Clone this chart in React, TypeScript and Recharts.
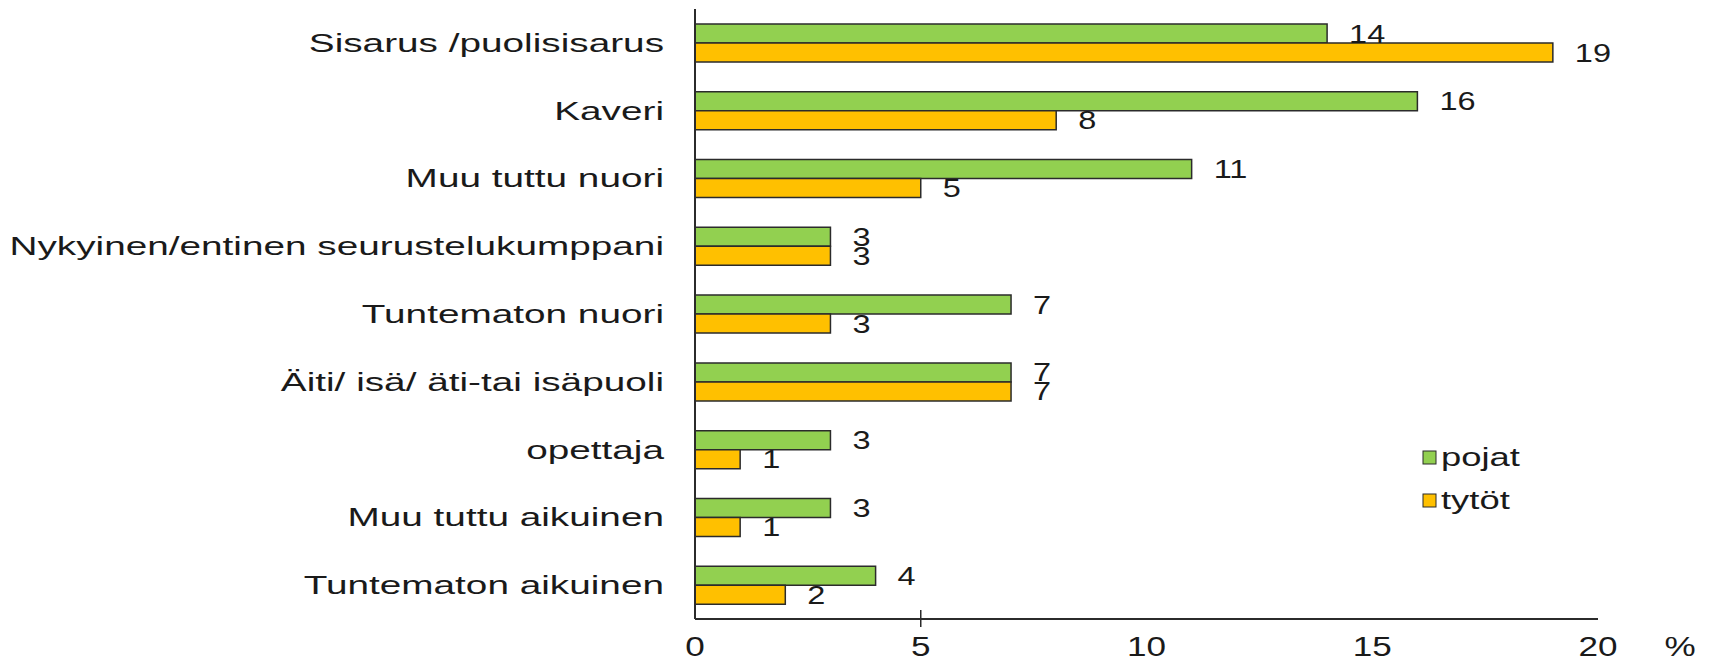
import React from "react"
import {
  BarChart,
  Bar,
  XAxis,
  YAxis,
  LabelList,
  Label,
} from "recharts"

const categories = [
  "Sisarus /puolisisarus",
  "Kaveri",
  "Muu tuttu nuori",
  "Nykyinen/entinen seurustelukumppani",
  "Tuntematon nuori",
  "Äiti/ isä/ äti-tai isäpuoli",
  "opettaja",
  "Muu tuttu aikuinen",
  "Tuntematon aikuinen",
]
const pojat = [14, 16, 11, 3, 7, 7, 3, 3, 4]
const tytot = [19, 8, 5, 3, 3, 7, 1, 1, 2]
const xTicks = [0, 5, 10, 15, 20]
const tickMarks = [5]
const seriesNames = ["pojat", "tytöt"]

const FONT = "'Liberation Sans', Arial, sans-serif"
const GREEN = "#92D050"
const ORANGE = "#FFC000"
const EDGE = "#2b2b2b"

const data = categories.map((name, i) => ({ name, pojat: pojat[i], tytot: tytot[i] }))

// the original text is stretched sideways, so scale it horizontally
const CategoryTick = ({ x, y, payload }: any) => (
  <g transform={`translate(${x - 23},${y + 9}) scale(1.49,1)`}>
    <text x={0} y={0} textAnchor="end" fontSize={26} fontFamily={FONT} fill="#1a1a1a">
      {payload.value}
    </text>
  </g>
)

const ValueTick = ({ x, y, payload }: any) => (
  <g>
    {tickMarks.includes(payload.value) && (
      <line x1={x} x2={x} y1={y - 9} y2={y + 8} stroke={EDGE} strokeWidth={1.5} />
    )}
    <g transform={`translate(${x},${y + 37}) scale(1.3,1)`}>
      <text x={0} y={0} textAnchor="middle" fontSize={27} fontFamily={FONT} fill="#1a1a1a">
        {payload.value}
      </text>
    </g>
  </g>
)

const renderValue = ({ x, y, width, height, value }: any) => (
  <g transform={`translate(${x + width + 22},${y + height / 2 + 9}) scale(1.3,1)`}>
    <text x={0} y={0} fontSize={25} fontFamily={FONT} fill="#1a1a1a">
      {value}
    </text>
  </g>
)

function ChartLegend() {
  const colors = [GREEN, ORANGE]
  return (
    <svg
      width={130}
      height={90}
      style={{ position: "absolute", left: 1420, top: 440 }}
    >
      {seriesNames.map((label, i) => {
        const cy = 17 + i * 43
        return (
          <g key={label}>
            <rect x={3} y={cy - 6} width={13} height={13} fill={colors[i]} stroke={EDGE} strokeWidth={1} />
            <g transform={`translate(21,${cy + 9}) scale(1.4,1)`}>
              <text x={0} y={0} fontSize={26} fontFamily={FONT} fill="#1a1a1a">
                {label}
              </text>
            </g>
          </g>
        )
      })}
    </svg>
  )
}

export default function App() {
  return (
    <div style={{ position: "absolute", left: 0, top: 0, width: 1711, height: 662, background: "#fff" }}>
      <BarChart
        width={1711}
        height={662}
        data={data}
        layout="vertical"
        margin={{ top: 9, right: 113, bottom: 0, left: 0 }}
        barGap={0}
        barSize={19}
      >
        <XAxis
          type="number"
          domain={[0, 20]}
          ticks={xTicks}
          tickLine={false}
          tickSize={0}
          tickMargin={0}
          tick={<ValueTick />}
          height={43}
          axisLine={{ stroke: EDGE, strokeWidth: 2 }}
        >
          <Label
            content={({ viewBox }: any) => (
              <g transform={`translate(${viewBox.x + viewBox.width + 82},${viewBox.y + 37}) scale(1.3,1)`}>
                <text x={0} y={0} textAnchor="middle" fontSize={27} fontFamily={FONT} fill="#1a1a1a">
                  %
                </text>
              </g>
            )}
          />
        </XAxis>
        <YAxis
          type="category"
          dataKey="name"
          width={695}
          tickLine={false}
          tick={<CategoryTick />}
          axisLine={{ stroke: EDGE, strokeWidth: 2 }}
          interval={0}
        />
        <Bar dataKey="pojat" name={seriesNames[0]} fill={GREEN} stroke={EDGE} strokeWidth={1.5} isAnimationActive={false}>
          <LabelList dataKey="pojat" content={renderValue} />
        </Bar>
        <Bar dataKey="tytot" name={seriesNames[1]} fill={ORANGE} stroke={EDGE} strokeWidth={1.5} isAnimationActive={false}>
          <LabelList dataKey="tytot" content={renderValue} />
        </Bar>
      </BarChart>
      <ChartLegend />
    </div>
  )
}
